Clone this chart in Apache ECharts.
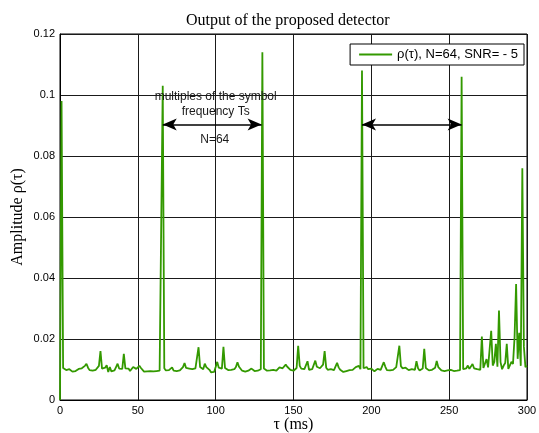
<!DOCTYPE html>
<html>
<head>
<meta charset="utf-8">
<script src="https://cdn.jsdelivr.net/npm/echarts@6/dist/echarts.min.js"></script>
<style>
html,body{margin:0;padding:0;background:#fff;}
#chart{width:539px;height:433px;}
</style>
</head>
<body>
<div id="chart"></div>
<script>
// Sample times (ms): one sample per ms, starting at 0
const tauStart = 0;
const tauStep = 1;
// Detector output rho(tau) (t = 0 .. 300)
const rhoValues = [
  0, 0.098, 0.0105, 0.0099, 0.0098, 0.0094, 0.0101, 0.0096, 0.0093, 0.0097,
  0.0095, 0.0099, 0.0102, 0.0097, 0.0104, 0.0109, 0.0112, 0.0119, 0.0106, 0.0098,
  0.0104, 0.0096, 0.0101, 0.0099, 0.0097, 0.0112, 0.016, 0.0103, 0.0097, 0.0106,
  0.0114, 0.0092, 0.0108, 0.0094, 0.0099, 0.0097, 0.0108, 0.0119, 0.0103, 0.0097,
  0.0102, 0.0151, 0.0104, 0.0098, 0.0103, 0.0095, 0.0101, 0.0108, 0.0114, 0.0102,
  0.0096, 0.0112, 0.0105, 0.0099, 0.0093, 0.0096, 0.0094, 0.0097, 0.0095, 0.0096,
  0.0094, 0.0097, 0.0095, 0.0098, 0.0096, 0.0099, 0.103, 0.0104, 0.0097, 0.0102,
  0.0098, 0.0101, 0.0107, 0.0096, 0.0093, 0.0095, 0.0099, 0.0097, 0.0102, 0.0108,
  0.0121, 0.0105, 0.0099, 0.0103, 0.0097, 0.0101, 0.0099, 0.0104, 0.0109, 0.0173,
  0.0108, 0.0113, 0.0101, 0.0119, 0.0108, 0.0114, 0.0099, 0.0091, 0.0095, 0.0092,
  0.0108, 0.0125, 0.0106, 0.0112, 0.0103, 0.0174, 0.0105, 0.0101, 0.0098, 0.0102,
  0.0099, 0.0095, 0.0101, 0.0108, 0.0124, 0.0109, 0.0103, 0.0096, 0.0099, 0.0093,
  0.0091, 0.0096, 0.0099, 0.0103, 0.0097, 0.0095, 0.0098, 0.0096, 0.0099, 0.0101,
  0.114, 0.0103, 0.0098, 0.0096, 0.0101, 0.0097, 0.0095, 0.0099, 0.0093, 0.0096,
  0.0102, 0.0107, 0.0111, 0.0104, 0.0108, 0.0116, 0.0109, 0.0103, 0.0099, 0.0102,
  0.0096, 0.0099, 0.0105, 0.0178, 0.0112, 0.0103, 0.0098, 0.0101, 0.0104, 0.0127,
  0.0099, 0.0097, 0.0101, 0.0095, 0.0129, 0.0109, 0.0114, 0.0104, 0.0108, 0.0116,
  0.016, 0.0106, 0.0099, 0.0097, 0.0101, 0.0095, 0.0098, 0.0104, 0.0122, 0.0107,
  0.0099, 0.0096, 0.0092, 0.0097, 0.0095, 0.0101, 0.0098, 0.0096, 0.0099, 0.0104,
  0.0108, 0.0102, 0.0112, 0.0101, 0.108, 0.0104, 0.0099, 0.0108, 0.0101, 0.0097,
  0.0103, 0.0099, 0.0094, 0.0098, 0.0102, 0.0106, 0.0099, 0.0103, 0.0124, 0.0109,
  0.0098, 0.0101, 0.0097, 0.0095, 0.0099, 0.0104, 0.0108, 0.0112, 0.0178, 0.0111,
  0.0104, 0.0098, 0.0106, 0.0102, 0.0098, 0.0096, 0.0101, 0.0103, 0.0099, 0.0127,
  0.0104, 0.0097, 0.0095, 0.0103, 0.0168, 0.0105, 0.0099, 0.0097, 0.0095, 0.0099,
  0.0101, 0.0106, 0.0128, 0.0108, 0.0103, 0.0097, 0.0092, 0.0095, 0.0099, 0.0097,
  0.0096, 0.0099, 0.0097, 0.0095, 0.0098, 0.0096, 0.0099, 0.0098, 0.106, 0.0101,
  0.0099, 0.0104, 0.0113, 0.0102, 0.0106, 0.0118, 0.0104, 0.0109, 0.0101, 0.0096,
  0.0099, 0.0208, 0.0105, 0.0109, 0.0134, 0.0107, 0.0112, 0.0227, 0.0113, 0.0125,
  0.0184, 0.0109, 0.0293, 0.0124, 0.0101, 0.0113, 0.0121, 0.0184, 0.0102, 0.0096,
  0.0125, 0.0118, 0.0205, 0.038, 0.0135, 0.022, 0.0112, 0.076, 0.0175, 0.0108,
  0.0112
];
const xTicks = [0, 50, 100, 150, 200, 250, 300];
const yTicks = [0, 0.02, 0.04, 0.06, 0.08, 0.1, 0.12];
const seriesName = 'ρ(τ), N=64, SNR= - 5';
const titleText = 'Output of the proposed detector';
const xName = 'τ (ms)';
const yName = 'Amplitude ρ(τ)';
// annotation arrows: peak-to-peak spans (tau) at a given amplitude
const arrowSpans = [[66, 129.5], [194, 258]];
const arrowLevel = 0.0903;
const noteText = 'multiples of the symbol\nfrequency Ts';
const notePos = [100, 0.0971];
const nText = 'N=64';
const nPos = [99.4, 0.0854];

const points = rhoValues.map((v, i) => [tauStart + i * tauStep, v]);

const serif = '"Liberation Serif", "Times New Roman", serif';
const sans = '"Liberation Sans", Arial, Helvetica, sans-serif';

const chart = echarts.init(document.getElementById('chart'), null, {renderer: 'canvas'});
chart.setOption({
  animation: false,
  backgroundColor: '#fff',
  title: {
    text: titleText,
    left: 186,
    top: 13,
    padding: 0,
    textStyle: {fontFamily: serif, fontSize: 16, fontWeight: 'normal', color: '#000'}
  },
  legend: {
    right: 15,
    top: 44,
    orient: 'horizontal',
    padding: [4, 6, 4, 9],
    itemWidth: 33,
    itemHeight: 14,
    itemGap: 4,
    backgroundColor: '#fff',
    borderColor: '#000',
    borderWidth: 1,
    borderRadius: 0,
    textStyle: {fontFamily: sans, fontSize: 13, color: '#000'},
    data: [{name: seriesName, icon: 'path://M0,0 L33,0 L33,2 L0,2 Z'}]
  },
  grid: {
    left: 60, right: 12, top: 34, bottom: 33,
    containLabel: false,
    outerBoundsMode: 'none',
    show: true, borderColor: '#000', borderWidth: 1, backgroundColor: '#fff'
  },
  xAxis: {
    type: 'value',
    min: xTicks[0], max: xTicks[xTicks.length - 1], interval: 50,
    name: xName, nameLocation: 'middle', nameGap: 17, nameMoveOverlap: false,
    nameTextStyle: {fontFamily: serif, fontSize: 16, color: '#000'},
    axisLine: {show: true, lineStyle: {color: '#000', width: 1}},
    axisTick: {show: false},
    axisLabel: {fontFamily: sans, fontSize: 11, color: '#000', margin: 5},
    splitLine: {show: true, lineStyle: {color: '#1a1a1a', width: 1}}
  },
  yAxis: {
    type: 'value',
    min: yTicks[0], max: yTicks[yTicks.length - 1], interval: 0.02,
    name: yName, nameLocation: 'middle', nameGap: 34, nameMoveOverlap: false,
    nameTextStyle: {fontFamily: serif, fontSize: 16, color: '#000'},
    axisLine: {show: true, lineStyle: {color: '#000', width: 1}},
    axisTick: {show: false},
    axisLabel: {fontFamily: sans, fontSize: 11, color: '#000', margin: 5,
      formatter: v => String(+v.toFixed(2))},
    splitLine: {show: true, lineStyle: {color: '#1a1a1a', width: 1}}
  },
  series: [{
    name: seriesName,
    type: 'line',
    data: points,
    symbol: 'none',
    sampling: null,
    silent: true,
    lineStyle: {color: '#339900', width: 1.8},
    itemStyle: {color: '#339900'},
    z: 3,
    markLine: {
      silent: true,
      symbol: ['arrow', 'arrow'],
      symbolSize: [9, 14],
      lineStyle: {color: '#000', width: 1.5, type: 'solid'},
      label: {show: false},
      data: arrowSpans.map(s => [
        {coord: [s[0], arrowLevel]},
        {coord: [s[1], arrowLevel]}
      ])
    },
    markPoint: {
      silent: true,
      symbol: 'rect',
      symbolSize: 1,
      itemStyle: {color: 'rgba(0,0,0,0)'},
      data: [
        {coord: notePos, label: {show: true, position: 'inside', formatter: noteText,
          fontFamily: sans, fontSize: 12, lineHeight: 15, color: '#1a1a1a', align: 'center'}},
        {coord: nPos, label: {show: true, position: 'inside', formatter: nText,
          fontFamily: sans, fontSize: 12, color: '#1a1a1a'}}
      ]
    }
  }]
});
</script>
</body>
</html>
